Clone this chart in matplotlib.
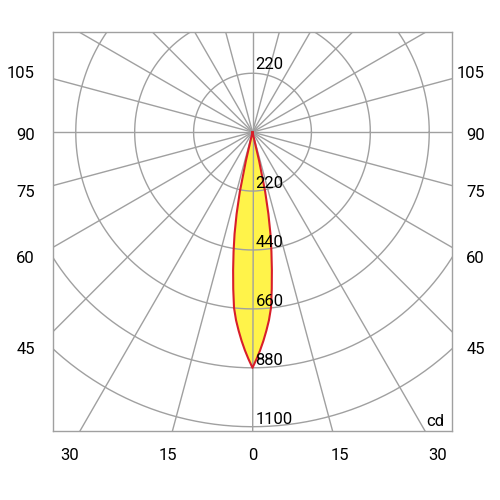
import numpy as np
import matplotlib.pyplot as plt

plt.rcParams['font.family'] = ['Roboto', 'DejaVu Sans']

# intensity curve (cd) vs angle from nadir (deg), symmetric
curve_angles = [0, 1, 2, 3, 4, 5, 6, 7, 8, 9, 10, 11, 12, 13, 14]
curve_cd = [880, 848, 815, 780, 743, 705, 660, 590, 520, 452, 386, 311, 228, 110, 0]

ring_values = [220, 440, 660, 880, 1100]
spoke_step = 15
side_labels = ['105', '90', '75', '60', '45']
bottom_labels = ['30', '15', '0', '15', '30']
unit_label = 'cd'

grid_col = '#a0a0a0'
fill_col = '#fff34a'
line_col = '#d81e2a'

fig = plt.figure(figsize=(5, 5), dpi=100)
ax = fig.add_axes([53 / 500, 69 / 500, 399 / 500, 399 / 500])
ax.set_xlim(-745, 745)
ax.set_ylim(-1115, 373)
ax.set_aspect('equal')
ax.set_xticks([])
ax.set_yticks([])
for s in ax.spines.values():
    s.set_color(grid_col)
    s.set_linewidth(1)

# light distribution, angle measured from straight down
ang = np.radians(np.concatenate([-np.array(curve_angles[::-1]), np.array(curve_angles[1:])]))
cd = np.concatenate([np.array(curve_cd[::-1]), np.array(curve_cd[1:])])
xs = cd * np.sin(ang)
ys = -cd * np.cos(ang)
ax.fill(xs, ys, color=fill_col, zorder=1, lw=0)

# grid
t = np.linspace(0, 2 * np.pi, 400)
for r in ring_values:
    ax.plot(r * np.cos(t), r * np.sin(t), color=grid_col, lw=1, zorder=2)
for a in range(0, 360, spoke_step):
    ar = np.radians(a)
    ax.plot([0, 3000 * np.cos(ar)], [0, 3000 * np.sin(ar)], color=grid_col, lw=1, zorder=2)

ax.plot(xs, ys, color=line_col, lw=1.5, zorder=3, solid_joinstyle='round')

# ring labels
fs = 12
ax.text(11, ring_values[0] + 15, str(ring_values[0]), fontsize=fs, ha='left', va='baseline', zorder=4)
for r in ring_values:
    ax.text(11, -r + 12, str(r), fontsize=fs, ha='left', va='baseline', zorder=4)

# angle labels
side_y = [77.5, 139.5, 196.7, 262.7, 354.3]
for lab, y in zip(side_labels, side_y):
    fig.text(35 / 500, 1 - y / 500, lab, fontsize=fs, ha='right', va='baseline')
    fig.text(485 / 500, 1 - y / 500, lab, fontsize=fs, ha='right', va='baseline')
bottom_x = [69.8, 168.3, 253, 340, 437.5]
for lab, x in zip(bottom_labels, bottom_x):
    fig.text(x / 500, 1 - 460 / 500, lab, fontsize=fs, ha='center', va='baseline')
fig.text(435.5 / 500, 1 - 426 / 500, unit_label, fontsize=fs, ha='center', va='baseline')

fig.savefig('out.png', dpi=100)
